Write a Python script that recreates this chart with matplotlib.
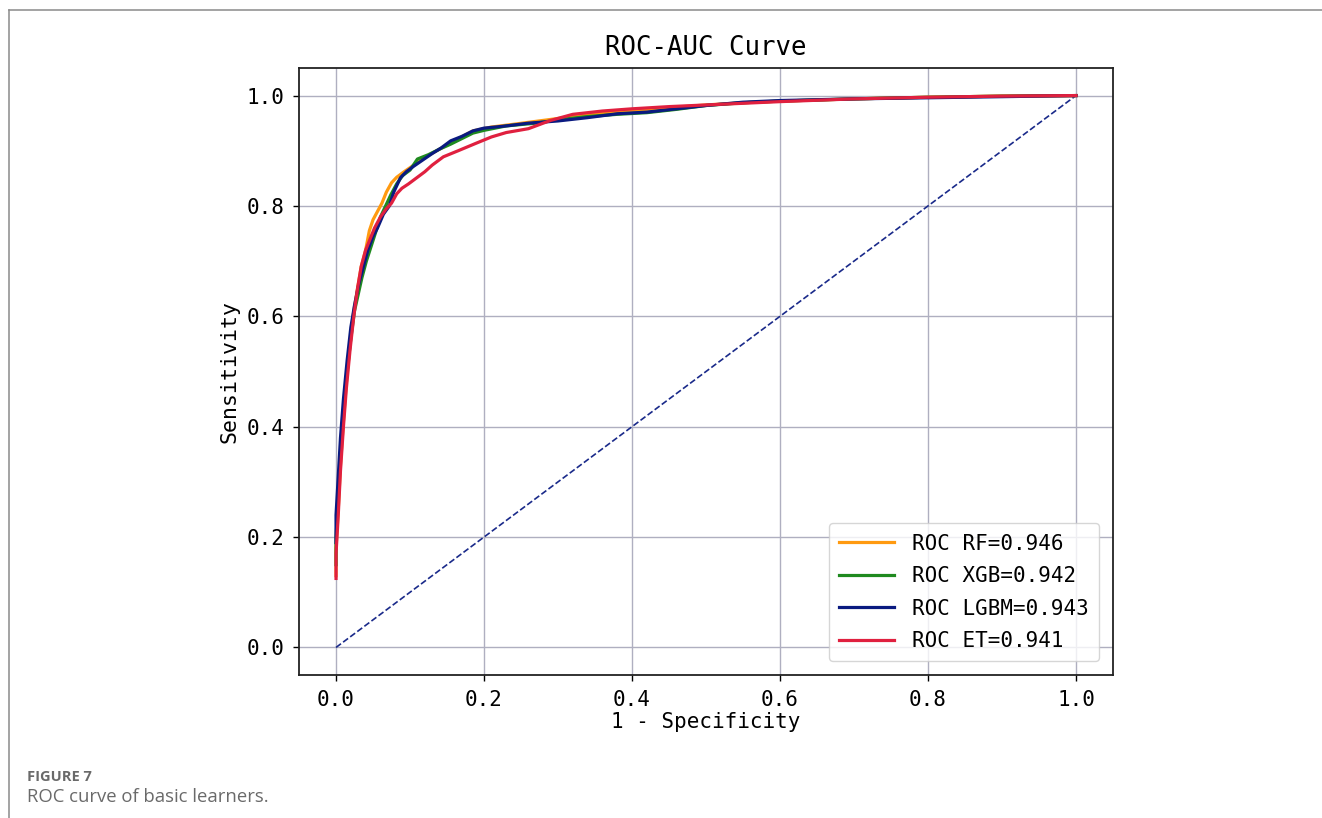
import matplotlib
matplotlib.use("Agg")
import matplotlib.pyplot as plt
from matplotlib.lines import Line2D

# ---- data ----
rf_fpr = [0, 0, 0.003, 0.006, 0.010, 0.014, 0.019, 0.024, 0.029, 0.034, 0.040, 0.045, 0.050, 0.056,
          0.062, 0.068, 0.075, 0.082, 0.092, 0.105, 0.118, 0.132, 0.148, 0.165, 0.185, 0.21, 0.24,
          0.28, 0.32, 0.36, 0.40, 0.45, 0.50, 0.55, 0.60, 0.70, 0.80, 0.90, 1.0]
rf_tpr = [0.13, 0.18, 0.25, 0.33, 0.41, 0.48, 0.55, 0.61, 0.65, 0.69, 0.72, 0.755, 0.775, 0.79,
          0.805, 0.825, 0.842, 0.852, 0.862, 0.874, 0.886, 0.897, 0.909, 0.922, 0.936, 0.943, 0.948,
          0.955, 0.962, 0.968, 0.973, 0.978, 0.983, 0.987, 0.990, 0.994, 0.997, 0.999, 1.0]

xgb_fpr = [0, 0, 0.003, 0.006, 0.010, 0.015, 0.020, 0.025, 0.030, 0.035, 0.041, 0.047, 0.053, 0.060,
           0.067, 0.074, 0.082, 0.090, 0.100, 0.110, 0.125, 0.140, 0.155, 0.170, 0.185, 0.20, 0.23,
           0.27, 0.30, 0.34, 0.38, 0.42, 0.46, 0.50, 0.55, 0.60, 0.70, 0.80, 0.90, 1.0]
xgb_tpr = [0.15, 0.20, 0.27, 0.35, 0.43, 0.50, 0.56, 0.61, 0.64, 0.67, 0.70, 0.725, 0.75, 0.78,
           0.80, 0.82, 0.84, 0.855, 0.865, 0.885, 0.893, 0.903, 0.912, 0.922, 0.932, 0.937, 0.945,
           0.950, 0.956, 0.962, 0.966, 0.969, 0.975, 0.982, 0.987, 0.990, 0.994, 0.997, 0.999, 1.0]

lgbm_fpr = [0, 0, 0.003, 0.006, 0.010, 0.015, 0.020, 0.025, 0.031, 0.037, 0.043, 0.050, 0.056, 0.064,
            0.072, 0.078, 0.087, 0.095, 0.105, 0.118, 0.130, 0.142, 0.155, 0.170, 0.185, 0.20, 0.23,
            0.26, 0.30, 0.34, 0.38, 0.42, 0.46, 0.50, 0.55, 0.60, 0.70, 0.80, 0.90, 1.0]
lgbm_tpr = [0.19, 0.24, 0.31, 0.38, 0.45, 0.52, 0.58, 0.62, 0.66, 0.69, 0.72, 0.745, 0.76, 0.785,
            0.80, 0.825, 0.851, 0.862, 0.872, 0.884, 0.895, 0.905, 0.918, 0.926, 0.936, 0.941, 0.945,
            0.950, 0.954, 0.960, 0.967, 0.970, 0.976, 0.982, 0.988, 0.991, 0.994, 0.996, 0.998, 1.0]

et_fpr = [0, 0, 0.003, 0.006, 0.010, 0.014, 0.019, 0.024, 0.029, 0.034, 0.040, 0.046, 0.052, 0.060,
          0.068, 0.075, 0.082, 0.089, 0.098, 0.109, 0.12, 0.13, 0.145, 0.165, 0.19, 0.21, 0.23,
          0.26, 0.29, 0.32, 0.36, 0.40, 0.45, 0.50, 0.55, 0.60, 0.70, 0.80, 0.90, 1.0]
et_tpr = [0.125, 0.17, 0.24, 0.32, 0.40, 0.47, 0.54, 0.60, 0.65, 0.69, 0.72, 0.74, 0.76, 0.78,
          0.795, 0.805, 0.822, 0.832, 0.840, 0.851, 0.862, 0.874, 0.889, 0.900, 0.914, 0.925, 0.933,
          0.940, 0.955, 0.966, 0.972, 0.976, 0.980, 0.983, 0.986, 0.989, 0.994, 0.997, 0.999, 1.0]

labels = ["ROC RF=0.946", "ROC XGB=0.942", "ROC LGBM=0.943", "ROC ET=0.941"]
colors = ["#ff9a10", "#1f8a1f", "#0a1a80", "#e0203f"]
ticks = [0.0, 0.2, 0.4, 0.6, 0.8, 1.0]
tick_labels = ["0.0", "0.2", "0.4", "0.6", "0.8", "1.0"]
diag = [0, 1]

MONO = "DejaVu Sans Mono"

fig = plt.figure(figsize=(13.22, 8.18), dpi=100)
ax = fig.add_axes([0.2262, 0.1748, 0.6157, 0.7421])

series = [(rf_fpr, rf_tpr), (xgb_fpr, xgb_tpr), (lgbm_fpr, lgbm_tpr), (et_fpr, et_tpr)]
for (fx, ty), lab, col in zip(series, labels, colors):
    ax.plot(fx, ty, color=col, lw=2.3, label=lab, zorder=3)
ax.plot(diag, diag, color="#1a2a8a", lw=1.2, linestyle="--", zorder=2)

ax.set_xticks(ticks)
ax.set_xticklabels(tick_labels, fontfamily=MONO, fontsize=15)
ax.set_yticks(ticks)
ax.set_yticklabels(tick_labels, fontfamily=MONO, fontsize=15)
ax.tick_params(length=4.5, width=1.0, pad=6)
ax.grid(True, color="#afafc0", lw=1.0, zorder=0)
ax.set_axisbelow(True)
for s in ax.spines.values():
    s.set_linewidth(1.3)
    s.set_color("#222222")

ax.set_title("ROC-AUC Curve", fontfamily=MONO, fontsize=18.5, pad=9)
ax.set_xlabel("1 - Specificity", fontfamily=MONO, fontsize=15, labelpad=2)
ax.set_ylabel("Sensitivity", fontfamily=MONO, fontsize=15.5, labelpad=5)

leg = ax.legend(loc="lower right", prop={"family": MONO, "size": 15}, handlelength=2.6,
                borderpad=0.5, labelspacing=0.6, handletextpad=0.9, framealpha=0.8,
                borderaxespad=0.65)

# figure frame lines and caption
fig.add_artist(Line2D([0.00703, 1.0], [0.9872, 0.9872], transform=fig.transFigure,
                      color="#8a8a8a", lw=1.1))
fig.add_artist(Line2D([0.00703, 0.00703], [0.0, 0.9872], transform=fig.transFigure,
                      color="#8a8a8a", lw=1.1))
fig.text(0.0204, 0.050, "FIGURE 7", fontfamily="Open Sans", fontweight="bold",
         fontsize=10.5, color="#6a6a6a", va="center", ha="left")
fig.text(0.0204, 0.0257, "ROC curve of basic learners.", fontfamily="Open Sans",
         fontsize=13.3, color="#6a6a6a", va="center", ha="left")

fig.savefig("out.png", dpi=100)
